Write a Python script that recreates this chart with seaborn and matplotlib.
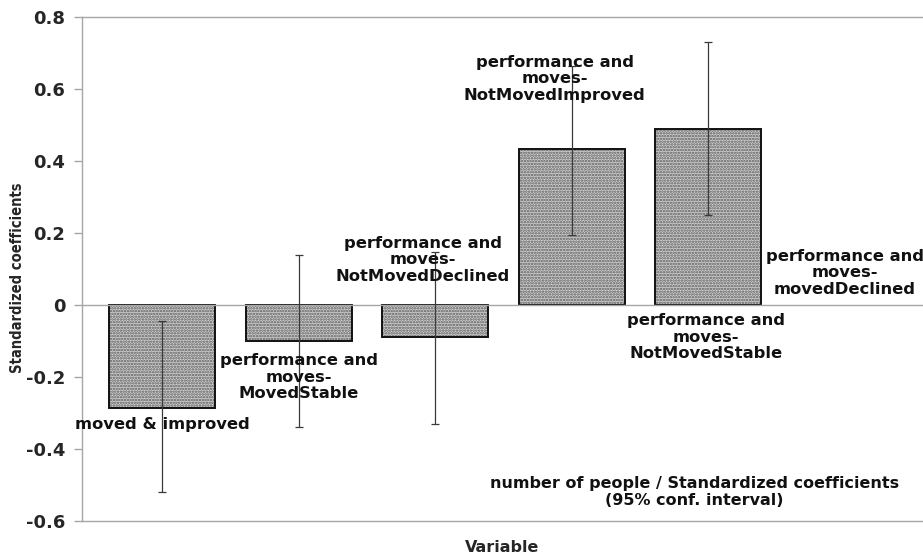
import matplotlib
matplotlib.use("Agg")
import matplotlib.pyplot as plt
import seaborn as sns
import numpy as np
import pandas as pd

# Standardized coefficients per variable with 95% confidence bounds
categories = [
    "moved & improved",
    "performance and moves-MovedStable",
    "performance and moves-NotMovedDeclined",
    "performance and moves-NotMovedImproved",
    "performance and moves-NotMovedStable",
    "performance and moves-movedDeclined",
]
coefficients = [-0.285, -0.100, -0.090, 0.433, 0.488, 0.0]
ci_low = [-0.520, -0.338, -0.330, 0.195, 0.250, np.nan]
ci_high = [-0.045, 0.140, 0.148, 0.665, 0.731, np.nan]
yticks = [-0.6, -0.4, -0.2, 0, 0.2, 0.4, 0.6, 0.8]
ytick_labels = ["-0.6", "-0.4", "-0.2", "0", "0.2", "0.4", "0.6", "0.8"]

df = pd.DataFrame({"Variable": categories, "coef": coefficients})

sns.set_style("white")
plt.rcParams["font.family"] = ["DejaVu Sans"]
plt.rcParams["hatch.linewidth"] = 1.2

fig = plt.figure(figsize=(9.23, 5.6), dpi=100)
ax = fig.add_axes([82 / 923, 1 - 521 / 560, 1 - 82 / 923, 504 / 560])

# dotted gray fill, then a separate black outline
sns.barplot(data=df, x="Variable", y="coef", ax=ax, width=0.776,
            color="#cfcfcf", saturation=1, linewidth=0, errorbar=None)
for p in ax.patches:
    p.set_hatch("......")
    p.set_edgecolor("#5a5a5a")
    p.set_linewidth(0)
sns.barplot(data=df, x="Variable", y="coef", ax=ax, width=0.776,
            fill=False, edgecolor="#111111", linewidth=1.4, errorbar=None)
# the reference category has no bar of its own
for p in list(ax.patches):
    if p.get_height() == 0:
        p.remove()

xpos = np.arange(len(categories))
coef = np.array(coefficients)
lo = np.array(ci_low)
hi = np.array(ci_high)
ax.errorbar(xpos, coef, yerr=[coef - lo, hi - coef], fmt="none",
            ecolor="#3a3a3a", elinewidth=0.9, capsize=3, capthick=0.9, zorder=5)

# zero reference line
ax.axhline(0, color="#a6a6a6", lw=1.0, zorder=1)

ax.set_xlim(-0.586, 5.571)
ax.set_ylim(-0.6, 0.8)
ax.set_yticks(yticks)
ax.set_yticklabels(ytick_labels, fontsize=13, fontweight="bold")
ax.set_xticks([])
ax.tick_params(axis="y", direction="out", length=6, width=1, color="#a6a6a6", pad=6, left=True)

for side in ["left", "top", "bottom"]:
    ax.spines[side].set_color("#a6a6a6")
    ax.spines[side].set_linewidth(1.0)
ax.spines["right"].set_visible(False)

ax.set_xlabel("Variable", fontsize=11.5, fontweight="bold", labelpad=14)
ax.set_ylabel("Standardized coefficients", fontsize=10.5, fontweight="bold",
              fontstretch="condensed")
ax.yaxis.set_label_coords(-0.0678, 0.483)


def wrap(name):
    if "moves-" in name:
        head, tail = name.split("moves-")
        return head.strip() + "\nmoves-\n" + tail
    return name


# category labels placed beside each bar
label_offsets = [(0.0, -0.333), (0.0, -0.20), (-0.09, 0.125),
                 (-0.125, 0.628), (-0.015, -0.089), (0.0, 0.089)]
for i, (name, (dx, y)) in enumerate(zip(categories, label_offsets)):
    ax.text(i + dx, y, wrap(name), ha="center", va="center", fontsize=11.8,
            fontweight="bold", linespacing=1.12, color="#111111", zorder=6)

ax.text(0.728, 0.058, "number of people / Standardized coefficients\n(95% conf. interval)",
        transform=ax.transAxes, ha="center", va="center", fontsize=11.5,
        fontweight="bold", linespacing=1.15, color="#111111")

fig.savefig("out.png", dpi=100)
